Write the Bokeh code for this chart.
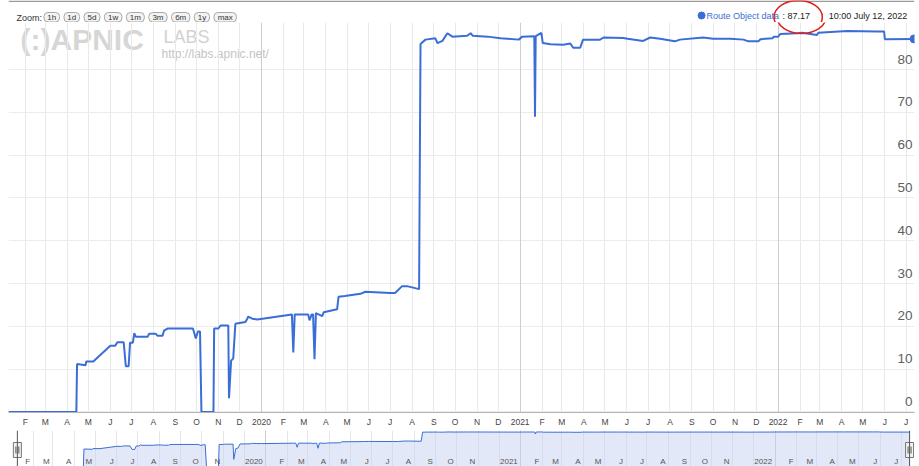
import numpy as np
import pandas as pd
from bokeh.plotting import figure
from bokeh.layouts import column
from bokeh.models import Range1d, FixedTicker, Grid, Label, Span, ColumnDataSource
from bokeh.core.properties import value
from bokeh.embed import file_html
from bokeh.resources import INLINE

# ---------------- data ----------------
dates = [
    "2019-01-08", "2019-04-14", "2019-04-15", "2019-04-27", "2019-04-28", "2019-05-08",
    "2019-06-01", "2019-06-08", "2019-06-11", "2019-06-20", "2019-06-23", "2019-06-27",
    "2019-06-29", "2019-07-03", "2019-07-05", "2019-07-07", "2019-07-24", "2019-07-26",
    "2019-08-04", "2019-08-07", "2019-08-14", "2019-08-16", "2019-08-21", "2019-09-26",
    "2019-09-30", "2019-10-03", "2019-10-06", "2019-10-08", "2019-10-25", "2019-10-26",
    "2019-11-01", "2019-11-04", "2019-11-15", "2019-11-16", "2019-11-19", "2019-11-22",
    "2019-11-25", "2019-12-09", "2019-12-12", "2019-12-13", "2019-12-19", "2019-12-26",
    "2020-02-13", "2020-02-15", "2020-02-17", "2020-03-07", "2020-03-09", "2020-03-12",
    "2020-03-14", "2020-03-16", "2020-03-18", "2020-03-27", "2020-03-29", "2020-04-17",
    "2020-04-19", "2020-04-28", "2020-05-20", "2020-05-27", "2020-07-01", "2020-07-08",
    "2020-07-18", "2020-07-25", "2020-08-11", "2020-08-13", "2020-08-20", "2020-09-03",
    "2020-09-06", "2020-09-13", "2020-09-20", "2020-09-27", "2020-10-18", "2020-10-23",
    "2020-10-26", "2020-11-16", "2020-12-04", "2020-12-14", "2020-12-30", "2021-01-04",
    "2021-01-21", "2021-01-22", "2021-01-23", "2021-01-31", "2021-02-02", "2021-02-13",
    "2021-03-03", "2021-03-13", "2021-03-17", "2021-03-27", "2021-03-31", "2021-04-24",
    "2021-04-29", "2021-05-27", "2021-06-02", "2021-06-24", "2021-07-04", "2021-07-18",
    "2021-08-08", "2021-08-15", "2021-09-17", "2021-10-01", "2021-10-25", "2021-11-13",
    "2021-11-20", "2021-12-04", "2021-12-07", "2021-12-24", "2021-12-26", "2022-01-01",
    "2022-01-04", "2022-01-28", "2022-02-04", "2022-02-25", "2022-02-27", "2022-04-09",
    "2022-05-21", "2022-05-31", "2022-06-01", "2022-07-12T10:00",
]
values = [
    0, 0, 11.2, 10.9, 11.8, 11.8,
    15.5, 15.5, 16.3, 16.3, 10.7, 10.7,
    16.2, 16.2, 18.4, 17.6, 17.6, 18.3,
    18.3, 17.8, 17.8, 19.0, 19.5, 19.5,
    17.2, 18.8, 18.8, 0, 0, 19.5,
    19.5, 20.2, 20.2, 3.2, 12.0, 12.5,
    20.6, 21.0, 21.8, 22.3, 21.8, 21.6,
    22.8, 13.9, 22.8, 22.8, 21.4, 22.8,
    22.8, 12.3, 23.1, 22.4, 23.3, 24.0,
    26.9, 27.1, 27.6, 28.1, 27.8, 27.8,
    29.4, 29.4, 28.7, 86.0, 87.0, 87.3,
    86.2, 86.7, 88.5, 87.7, 87.9, 88.5,
    87.9, 87.7, 87.3, 87.2, 87.0, 87.7,
    87.8, 69.0, 87.8, 88.6, 86.2, 85.9,
    85.8, 86.1, 85.1, 85.1, 87.0, 87.0,
    87.5, 87.4, 87.2, 86.7, 87.5, 87.2,
    86.6, 87.0, 87.5, 87.2, 87.2, 87.0,
    86.6, 86.6, 87.1, 87.3, 87.7, 87.7,
    88.3, 88.5, 88.6, 88.1, 88.6, 89.0,
    88.9, 88.9, 87.1, 87.17,
]
series_name = "Route Object data"
last_value = 87.17
last_time = "10:00 July 12, 2022"
zoom_buttons = ["1h", "1d", "5d", "1w", "1m", "3m", "6m", "1y", "max"]
y_ticks = [0, 10, 20, 30, 40, 50, 60, 70, 80]
month_letters = ["J", "F", "M", "A", "M", "J", "J", "A", "S", "O", "N", "D"]
watermark = ["(:)APNIC", "LABS", "http://labs.apnic.net/"]

# ---------------- layout / styling (page pixels) ----------------
BLUE = "#3a6ed6"
FONT = "Liberation Sans"
W = 919
PL, PR = 8, 5                 # main frame: x 8..914
FRAME_W = W - PL - PR
HH = 22                       # header: y 0..22
MAIN_H = 408                  # main figure: y 22..430, frame 22..412
MB = 18
NH = 36                       # navigator: y 430..466
FRAME_BOTTOM = HH + MAIN_H - MB   # 412
PX_PER_UNIT = 4.28
Y_LO = -0.12
Y_HI = Y_LO + (MAIN_H - MB) / PX_PER_UNIT

x = pd.to_datetime(dates, format="ISO8601")
y = np.array(values, dtype=float)
EPOCH = pd.Timestamp("1970-01-01")


def ms(t):
    return (pd.Timestamp(t) - EPOCH) / pd.Timedelta(milliseconds=1)


x_start = pd.Timestamp("2019-01-08")
x_end = pd.Timestamp("2022-07-13")
px_per_ms = FRAME_W / (ms(x_end) - ms(x_start))


def page_x_to_ms(px):
    return ms(x_start) + (px - PL) / px_per_ms


def page_y_to_val(py):
    return Y_LO + (FRAME_BOTTOM - py) / PX_PER_UNIT


months = pd.date_range("2019-02-01", "2022-07-01", freq="MS")
month_ms = [float(ms(m)) for m in months]
month_lbl = [str(m.year) if m.month == 1 else month_letters[m.month - 1] for m in months]
year_ms = [float(ms(m)) for m in months if m.month == 1]

src = ColumnDataSource(dict(x=x, y=y))

ELL_X, ELL_Y, ELL_W, ELL_H = 801, 16.5, 49, 33

# ---------------- header (zoom buttons + legend) ----------------
h = figure(width=W, height=HH, x_range=Range1d(0, W), y_range=Range1d(0, HH),
           x_axis_location=None, y_axis_location=None, output_backend="svg",
           toolbar_location=None, min_border=0)
h.grid.visible = False
h.outline_line_color = None


def hy(page_y):
    return HH - page_y


h.segment(x0=[0], x1=[W], y0=[hy(0.8)], y1=[hy(0.8)], line_color="#9a9a9a", line_width=1.6)
h.text(x=[8], y=[hy(17)], text=["Zoom:"], text_baseline="middle", text_align="left",
       text_font=value(FONT), text_font_size="9px", text_color="#333333")
cw = {"1": 4.2, "3": 4.6, "5": 4.6, "6": 4.6, "h": 4.6, "d": 4.6, "w": 6.6,
      "m": 7.0, "a": 4.6, "x": 4.2, "y": 4.2}
lefts, rights = [], []
cur = 36.0
for b in zoom_buttons:
    wdt = 7 + sum(cw.get(c, 4.6) for c in b)
    lefts.append(cur)
    rights.append(cur + wdt)
    cur += wdt + 4.5
h.quad(left=lefts, right=rights, bottom=hy(21.5), top=hy(12), fill_color="#f3f3f3",
       line_color="#a8a8a8", line_width=1, border_radius=4)
h.text(x=[(a + b) / 2 for a, b in zip(lefts, rights)], y=[hy(16.8)] * len(zoom_buttons),
       text=zoom_buttons, text_align="center", text_baseline="middle",
       text_font=value(FONT), text_font_size="8px", text_color="#333333")

h.scatter(x=[703], y=[hy(15)], size=7, color=BLUE)
h.text(x=[708], y=[hy(15)], text=[series_name], text_baseline="middle",
       text_font=value(FONT), text_font_size="9px", text_color=BLUE)
h.text(x=[785], y=[hy(15)], text=[": " + f"{last_value:.2f}"], text_baseline="middle",
       text_font=value(FONT), text_font_size="9px", text_color="#222222")
h.text(x=[832], y=[hy(15)], text=[last_time], text_baseline="middle",
       text_font=value(FONT), text_font_size="9px", text_color="#222222")
h.ellipse(x=[ELL_X], y=[hy(ELL_Y)], width=ELL_W, height=ELL_H, fill_color=None,
          line_color="#e0201e", line_width=1.5)

# ---------------- main chart ----------------
p = figure(width=W, height=MAIN_H, x_axis_type="datetime",
           x_range=Range1d(x_start, x_end), y_range=Range1d(Y_LO, Y_HI),
           y_axis_location=None, output_backend="svg", toolbar_location=None,
           min_border_left=PL, min_border_right=PR, min_border_top=0, min_border_bottom=MB)
p.outline_line_color = None

p.xaxis.ticker = FixedTicker(ticks=month_ms)
p.xaxis.major_label_overrides = {t: l for t, l in zip(month_ms, month_lbl)}
p.xaxis.major_tick_line_color = None
p.xaxis.major_tick_out = 0
p.xaxis.major_tick_in = 0
p.xaxis.minor_tick_line_color = None
p.xaxis.axis_line_color = "#b4b4b4"
p.xaxis.major_label_standoff = 4
p.xaxis.major_label_text_font = FONT
p.xaxis.major_label_text_font_size = "8.5px"
p.xaxis.major_label_text_color = "#444444"

p.xgrid.ticker = FixedTicker(ticks=month_ms)
p.xgrid.grid_line_color = "#e9e9e9"
p.ygrid.ticker = FixedTicker(ticks=y_ticks)
p.ygrid.grid_line_color = "#ececec"
p.add_layout(Grid(dimension=0, ticker=FixedTicker(ticks=year_ms), grid_line_color="#cdcdcd"))


# watermark (screen units, relative to the frame's bottom-left corner)
def wm_y(page_baseline):
    return FRAME_BOTTOM - page_baseline


p.add_layout(Label(x=20 - PL, y=wm_y(55), x_units="screen", y_units="screen", text=watermark[0],
                   text_font=FONT, text_font_size="30px", text_font_style="bold",
                   text_color="#d6d6d6", level="image"))
p.add_layout(Label(x=163 - PL, y=wm_y(46), x_units="screen", y_units="screen", text=watermark[1],
                   text_font=FONT, text_font_size="18px", text_color="#d2d2d2", level="image"))
p.add_layout(Label(x=161 - PL, y=wm_y(60), x_units="screen", y_units="screen", text=watermark[2],
                   text_font=FONT, text_font_size="12px", text_color="#c4c4c4", level="image"))

p.line("x", "y", source=src, line_width=2, color=BLUE)
p.scatter(x=[x[-1]], y=[y[-1]], size=8, color=BLUE)

# y labels sit just above their grid lines, inside the plot (Highstock style)
label_lift = 10.5 / PX_PER_UNIT
p.text(x=[x_end] * len(y_ticks), y=[t + label_lift for t in y_ticks],
       text=[str(t) for t in y_ticks],
       text_align="right", text_baseline="alphabetic", x_offset=-2,
       text_font=value(FONT), text_font_size="13.5px", text_color="#606060")

# lower part of the red ellipse that reaches into the plot area
p.ellipse(x=[page_x_to_ms(ELL_X)], y=[page_y_to_val(ELL_Y)], width=ELL_W, height=ELL_H,
          width_units="screen", height_units="screen", fill_color=None,
          line_color="#e0201e", line_width=1.5)

# ---------------- navigator ----------------
NAV_LO, NAV_HI = 1.35, 105.6
nav_start = x_start - pd.Timedelta(milliseconds=PL / px_per_ms)
nav_end = x_end + pd.Timedelta(milliseconds=PR / px_per_ms)


def nav_y(page_y):
    frac = (HH + MAIN_H + NH - page_y) / NH
    return 10 ** (np.log10(NAV_LO) + frac * (np.log10(NAV_HI) - np.log10(NAV_LO)))


n = figure(width=W, height=NH, x_axis_type="datetime", y_axis_type="log",
           x_range=Range1d(nav_start, nav_end), y_range=Range1d(NAV_LO, NAV_HI),
           x_axis_location=None, y_axis_location=None, output_backend="svg",
           toolbar_location=None, min_border=0)
n.outline_line_color = None
n.xgrid.ticker = FixedTicker(ticks=month_ms)
n.xgrid.grid_line_color = "#e6e6e6"
n.ygrid.visible = False
n.add_layout(Grid(dimension=0, ticker=FixedTicker(ticks=year_ms), grid_line_color="#cccccc"))

nav_vals = np.clip(y, 1.0, None)
nsrc = ColumnDataSource(dict(x=x, y=nav_vals))
n.varea(x="x", y1=1.0, y2="y", source=nsrc, fill_color="#c6d2f1", fill_alpha=0.5)
n.line("x", "y", source=nsrc, line_width=1, color=BLUE)

nav_ticks = [t for t, m in zip(month_ms, months) if m.month != 12]
nav_lbls = [l for l, m in zip(month_lbl, months) if m.month != 12]
n.text(x=nav_ticks, y=[nav_y(461)] * len(nav_ticks), text=nav_lbls,
       text_align="right", text_baseline="middle", x_offset=-3,
       text_font=value(FONT), text_font_size="8px", text_color="#555555")

left_ms = page_x_to_ms(9)
right_ms = page_x_to_ms(914)
for loc in (left_ms, right_ms):
    n.add_layout(Span(location=loc, dimension="height", line_color="#555555", line_width=1))
n.rect(x=[left_ms, right_ms], y=[nav_y(449.5)] * 2, width=8, height=15,
       width_units="screen", height_units="screen",
       fill_color="#f2f2f2", line_color="#777777")
gx = []
for c in (left_ms, right_ms):
    gx += [c - 1.5 / px_per_ms, c + 1.5 / px_per_ms]
n.segment(x0=gx, x1=gx, y0=[nav_y(453)] * 4, y1=[nav_y(446)] * 4,
          line_color="#555555", line_width=1)

layout = column(h, p, n, spacing=0)
open("out.html", "w").write(file_html(layout, INLINE))
